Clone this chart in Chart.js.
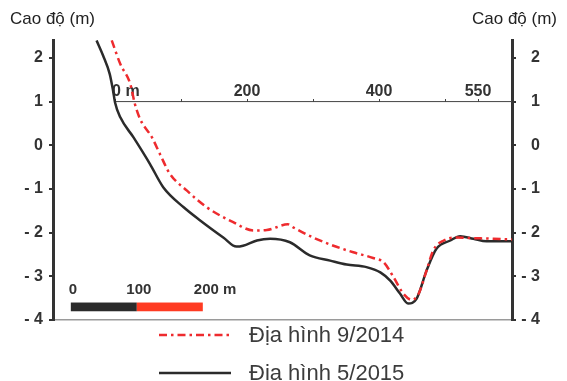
<!DOCTYPE html>
<html>
<head>
<meta charset="utf-8">
<script src="https://cdn.jsdelivr.net/npm/chart.js@4.4.0/dist/chart.umd.min.js"></script>
<style>
    html, body { margin: 0; padding: 0; background: #fff; }
    #wrap { width: 567px; height: 381px; }
</style>
</head>
<body>
<div id="wrap"><canvas id="profileChart" width="567" height="381"></canvas></div>
<script>
// Khoảng cách (m) và cao độ (m)
const dist2014 = [-5, 8, 23, 30, 38, 56, 68, 83, 109, 139, 179, 210, 230, 262, 270, 300, 331, 361, 391, 407, 422, 437, 450, 460, 472, 482, 498, 518, 533, 573, 601.5];
const elev2014 = [2.40, 1.86, 1.41, 0.95, 0.60, 0.18, -0.20, -0.65, -1.04, -1.42, -1.76, -1.95, -1.94, -1.81, -1.88, -2.11, -2.30, -2.45, -2.58, -2.68, -3.02, -3.40, -3.54, -3.40, -2.87, -2.41, -2.18, -2.11, -2.12, -2.14, -2.16];
const dist2015 = [-28, -18, -8, -3, 0, 8, 28, 53, 73, 104, 129, 164, 184, 194, 215, 235, 265, 295, 326, 351, 381, 402, 417, 432, 444, 457, 472, 487, 508, 523, 543, 563, 601.5];
const elev2015 = [2.40, 2.05, 1.63, 1.25, 0.98, 0.64, 0.18, -0.43, -0.96, -1.42, -1.72, -2.11, -2.32, -2.30, -2.18, -2.14, -2.22, -2.52, -2.64, -2.73, -2.79, -2.91, -3.10, -3.40, -3.62, -3.51, -2.87, -2.37, -2.18, -2.08, -2.14, -2.20, -2.20];

const seriesLabels = ["Địa hình 9/2014", "Địa hình 5/2015"];
const elevTicks = [-4, -3, -2, -1, 0, 1, 2];
const distTicks = [0, 100, 200, 300, 400, 500, 550];
const distLabels = {200: "200", 400: "400", 550: "550"};
const distZeroLabel = "0 m";
const scaleBarOrigin = -67;
const scaleBarMarks = [0, 100, 200];
const scaleBarLabels = ["0", "100", "200 m"];
const axisTitle = "Cao độ (m)";

const xMin = -94, xMax = 601.5, yMin = -4, yMax = 2.41;
const distAxisLevel = 1;

const FONT = '"Liberation Sans", Arial, sans-serif';
const RED = "#ee2b2e";
const DARK = "#2b2b2b";

function toPoints(xs, ys) {
    return xs.map((x, i) => ({x: x, y: ys[i]}));
}

function elevLabel(v) {
    return v < 0 ? "- " + Math.abs(v) : String(v);
}

// legend, scale bar, titles
const extrasPlugin = {
    id: "extras",
    beforeDatasetsDraw(chart) {
        const ctx = chart.ctx;
        const x2 = chart.scales.x2;
        const y = chart.scales.y;
        ctx.save();
        ctx.font = "bold 16px " + FONT;
        ctx.fillStyle = "#333";
        ctx.textAlign = "left";
        ctx.textBaseline = "middle";
        ctx.fillText(distZeroLabel, x2.getPixelForValue(0) - 3, y.getPixelForValue(distAxisLevel) - 10);
        ctx.restore();
    },
    afterDraw(chart) {
        const ctx = chart.ctx;
        const x = chart.scales.x;
        const y = chart.scales.y;
        ctx.save();

        // titles
        ctx.font = "17px " + FONT;
        ctx.fillStyle = "#222";
        ctx.textBaseline = "alphabetic";
        ctx.textAlign = "left";
        ctx.fillText(axisTitle, 10, 24);
        ctx.textAlign = "right";
        ctx.fillText(axisTitle, 557, 24);

        // scale bar
        const top = y.getPixelForValue(-3.6);
        const bot = y.getPixelForValue(-3.8);
        const colors = [DARK, "#ff3b22"];
        for (let i = 0; i < scaleBarMarks.length - 1; i++) {
            const a = x.getPixelForValue(scaleBarOrigin + scaleBarMarks[i]);
            const b = x.getPixelForValue(scaleBarOrigin + scaleBarMarks[i + 1]);
            ctx.fillStyle = colors[i];
            ctx.fillRect(a, top, b - a, bot - top);
        }
        ctx.font = "bold 15px " + FONT;
        ctx.fillStyle = "#333";
        ctx.textBaseline = "middle";
        const ly = y.getPixelForValue(-3.3);
        scaleBarLabels.forEach((t, i) => {
            const px = x.getPixelForValue(scaleBarOrigin + scaleBarMarks[i]);
            if (i === scaleBarLabels.length - 1) {
                ctx.textAlign = "left";
                ctx.fillText(t, px - 9, ly);
            } else {
                ctx.textAlign = "center";
                ctx.fillText(t, px + 2, ly);
            }
        });

        // legend
        const rows = [335, 373];
        ctx.font = "22px " + FONT;
        ctx.textAlign = "left";
        ctx.textBaseline = "alphabetic";
        for (let i = 0; i < 2; i++) {
            const ds = chart.data.datasets[i];
            ctx.strokeStyle = ds.borderColor;
            ctx.lineWidth = ds.borderWidth;
            ctx.setLineDash(ds.borderDash || []);
            ctx.beginPath();
            ctx.moveTo(159, rows[i]);
            ctx.lineTo(231, rows[i]);
            ctx.stroke();
            ctx.setLineDash([]);
            ctx.fillStyle = "#3c3c3c";
            ctx.fillText(ds.label, 249, rows[i] + 7);
        }
        ctx.restore();
    }
};

const elevAxis = (pos) => ({
    type: "linear",
    position: pos,
    min: yMin,
    max: yMax,
    afterBuildTicks: (scale) => {
        scale.ticks = elevTicks.map((v) => ({value: v}));
    },
    afterFit: (scale) => {
        scale.width = pos === "left" ? 53 : 28;
    },
    ticks: {
        padding: pos === "left" ? 6 : 5,
        crossAlign: pos === "left" ? "near" : "far",
        color: "#333",
        font: {family: FONT, size: 16, weight: "bold"},
        callback: (v) => elevLabel(v),
    },
    grid: {drawOnChartArea: false, drawTicks: true, tickLength: 4, color: "#333", lineWidth: 2},
    border: {display: true, color: "#333", width: 3},
});

new Chart(document.getElementById("profileChart").getContext("2d"), {
    type: "line",
    data: {
        datasets: [
            {
                label: seriesLabels[0],
                data: toPoints(dist2014, elev2014),
                borderColor: RED,
                borderWidth: 2.5,
                borderDash: [8, 4, 2.5, 4],
                pointRadius: 0,
                cubicInterpolationMode: "monotone",
                xAxisID: "x",
                yAxisID: "y",
            },
            {
                label: seriesLabels[1],
                data: toPoints(dist2015, elev2015),
                borderColor: DARK,
                borderWidth: 2.5,
                pointRadius: 0,
                cubicInterpolationMode: "monotone",
                xAxisID: "x",
                yAxisID: "y",
            },
            {
                // distance axis line
                label: "dist-axis",
                data: [{x: distTicks[0], y: distAxisLevel}, {x: xMax, y: distAxisLevel}],
                borderColor: "#444",
                borderWidth: 1,
                pointRadius: 0,
                xAxisID: "x",
                yAxisID: "y",
            },
        ],
    },
    options: {
        responsive: false,
        animation: false,
        devicePixelRatio: 1,
        layout: {padding: {top: 40, right: 27, bottom: 0, left: 0}},
        plugins: {
            legend: {display: false},
            tooltip: {enabled: false},
        },
        scales: {
            x: {
                type: "linear",
                position: "bottom",
                min: xMin,
                max: xMax,
                afterFit: (scale) => {
                    scale.height = 61;
                },
                ticks: {display: false},
                grid: {display: false},
                border: {display: true, color: "#9a9a9a", width: 1.5},
            },
            x2: {
                type: "linear",
                axis: "x",
                position: {y: distAxisLevel},
                min: xMin,
                max: xMax,
                afterBuildTicks: (scale) => {
                    scale.ticks = distTicks.map((v) => ({value: v}));
                },
                ticks: {
                    autoSkip: false,
                    maxRotation: 0,
                    padding: -17,
                    color: "#333",
                    font: {family: FONT, size: 16, weight: "bold"},
                    callback: (v) => distLabels[v] || "",
                },
                grid: {drawOnChartArea: false, drawTicks: true, tickLength: -3, color: "#444", lineWidth: 1},
                border: {display: false},
            },
            y: elevAxis("left"),
            y2: elevAxis("right"),
        },
    },
    plugins: [extrasPlugin],
});
</script>
</body>
</html>
